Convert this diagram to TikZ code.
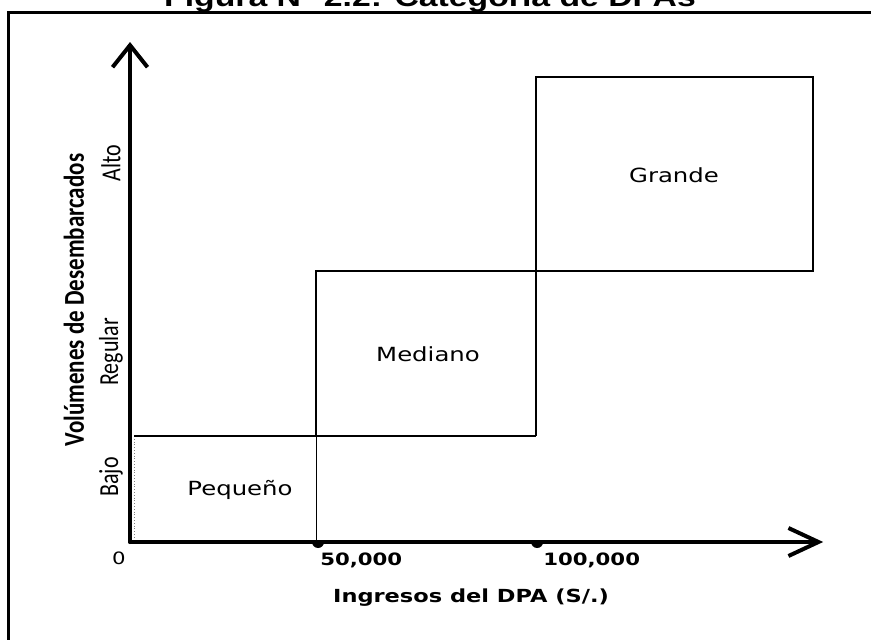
\documentclass[tikz,border=0pt]{standalone}
\usepackage{fontspec}
\setmainfont{DejaVu Sans}
\newfontfamily\carl{Carlito}
\newfontfamily\arialf{Liberation Sans}
\usetikzlibrary{arrows.meta}
\begin{document}
\begin{tikzpicture}[x=0.8pt,y=-1pt,xscale=1.25,
  lbl/.style={transform shape, inner sep=0pt},
  boxlbl/.style={lbl, font=\fontsize{19.5}{19.5}\selectfont},
  ylbl/.style={lbl, rotate=90, font=\carl\fontsize{22}{22}\selectfont},
  numlbl/.style={lbl, anchor=west, font=\bfseries\fontsize{17}{17}\selectfont},
  axisline/.style={line width=4pt, line cap=round},
  heavybox/.style={line width=2.5pt},
  midbox/.style={line width=2pt},
  thinbox/.style={line width=1.1pt},
  faintbox/.style={line width=0.8pt, gray, dotted}]
\useasboundingbox (0,0) rectangle (871,640);
% outer frame
\draw[line width=3pt] (8,12) rectangle (900,700);
% title (cut by the top edge, as in the reference)
\node[lbl, anchor=base, font=\arialf\bfseries\fontsize{27}{27}\selectfont] (title) at (430,6) {Figura N° 2.2: Categoría de DPAs};
% key points
\coordinate (O) at (130,542);
\coordinate (ytip) at (130,42);
\coordinate (xtip) at (823,542);
\coordinate (t1) at (318,542);
\coordinate (t2) at (537,542);
\coordinate (pA) at (134,436);
\coordinate (pB) at (316,436);
\coordinate (pC) at (316,540);
\coordinate (pD) at (134,540);
\coordinate (mA) at (316,271);
\coordinate (mB) at (536,271);
\coordinate (mC) at (536,436);
\coordinate (gA) at (536,77);
\coordinate (gB) at (813,77);
\coordinate (gC) at (813,271);
% Pequeño box
\draw[faintbox] (pA) -- (pD) -- (pC);
\draw[thinbox] (pB) -- (pC);
% Mediano box
\draw[midbox] (pA) -- (mC);
\draw[midbox] (pB) -- (mA) -- (mB) -- (mC);
% Grande box
\draw[heavybox] (mB) -- (gA) -- (gB) -- (gC) -- cycle;
% axes
\draw[axisline, -{Straight Barb[length=22pt,width=35pt,line width=4pt]}] (O) -- (ytip);
\draw[axisline, -{Straight Barb[length=30pt,width=28pt,line width=4pt]}] (O) -- (xtip);
% ticks
\fill (t1) ++(-6,0) arc[start angle=180,end angle=0,radius=6] -- cycle;
\fill (t2) ++(-6,0) arc[start angle=180,end angle=0,radius=6] -- cycle;
% box labels
\node[boxlbl] (peq) at (240,490) {Pequeño};
\node[boxlbl] (med) at (428,354) {Mediano};
\node[boxlbl] (gra) at (674,175) {Grande};
% y labels
\node[ylbl] (alto) at (111,163) {Alto};
\node[ylbl] (regular) at (111,352) {Regular};
\node[ylbl] (bajo) at (111,477) {Bajo};
\node[lbl, rotate=90, font=\carl\bfseries\fontsize{23}{23}\selectfont] (ytitle) at (74,300) {Volúmenes de Desembarcados};
% x labels
\node[lbl, font=\fontsize{17}{17}\selectfont] (zero) at (119,558) {0};
\node[numlbl] (n50) at (320,560) {50,000};
\node[numlbl] (n100) at (543,560) {100,000};
\node[lbl, font=\bfseries\fontsize{18}{18}\selectfont] (xtitle) at (471,598) {Ingresos del DPA (S/.)};
\end{tikzpicture}
\end{document}
